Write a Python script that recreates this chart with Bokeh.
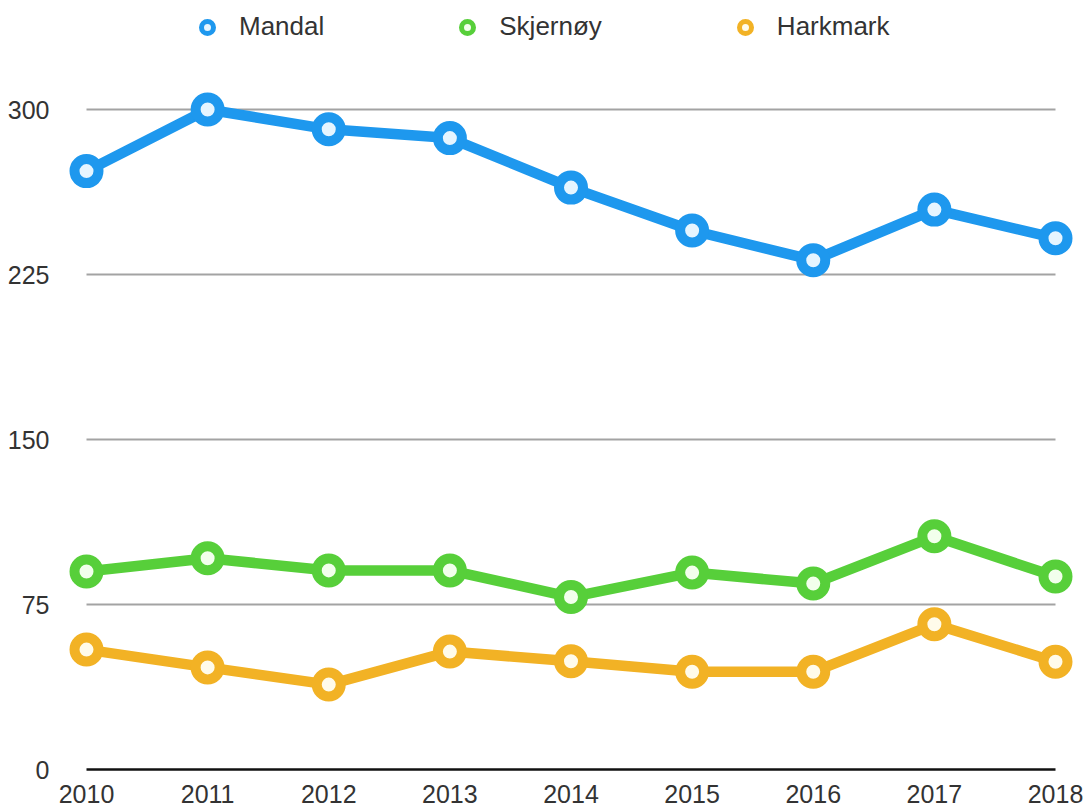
from bokeh.plotting import figure
from bokeh.models import Legend, LegendItem, FixedTicker, Range1d
from bokeh.embed import file_html
from bokeh.resources import INLINE

years = [2010, 2011, 2012, 2013, 2014, 2015, 2016, 2017, 2018]
mandal = [272, 300, 291, 287, 264.5, 245, 231.5, 254.5, 241.5]
skjernoy = [90, 96, 90.5, 90.5, 78.4, 89.5, 84.5, 106, 87.7]
harkmark = [54.5, 46.4, 38.6, 53.6, 49.2, 44.4, 44.4, 66, 49]
series_names = ["Mandal", "Skjernøy", "Harkmark"]
y_ticks = [0, 75, 150, 225, 300]

colors = ["#1E98EE", "#57CF3A", "#F2B225"]
centers = ["#E6F5FF", "#F2FFEC", "#FFFBEA"]

p = figure(width=1087, height=807, output_backend="svg", toolbar_location=None,
           x_range=Range1d(2009.8349, 2018.1651), y_range=Range1d(0, 349.55),
           min_border_left=66, min_border_right=12, min_border_top=0, min_border_bottom=38)
p.outline_line_color = None
p.background_fill_color = "white"
p.border_fill_color = "white"

p.xgrid.grid_line_color = None
p.ygrid.grid_line_color = None

# horizontal gridlines spanning the year range only
grid_ticks = y_ticks[1:]
p.segment(x0=[years[0]] * len(grid_ticks), x1=[years[-1]] * len(grid_ticks),
          y0=grid_ticks, y1=grid_ticks, line_color="#A3A3A3", line_width=2, level="underlay")

p.yaxis.ticker = FixedTicker(ticks=y_ticks)
p.yaxis.axis_line_color = None
p.yaxis.major_tick_line_color = None
p.yaxis.minor_tick_line_color = None
p.yaxis.major_label_standoff = 11
p.yaxis.major_label_text_font = "Liberation Sans"
p.yaxis.major_label_text_font_size = "25px"
p.yaxis.major_label_text_color = "#333333"

p.xaxis.ticker = FixedTicker(ticks=years)
p.xaxis.bounds = (years[0], years[-1])
p.xaxis.axis_line_color = "#111111"
p.xaxis.axis_line_width = 2.5
p.xaxis.major_tick_line_color = None
p.xaxis.minor_tick_line_color = None
p.xaxis.major_label_standoff = 9
p.xaxis.major_label_text_font = "Liberation Sans"
p.xaxis.major_label_text_font_size = "25px"
p.xaxis.major_label_text_color = "#333333"

items = []
for vals, name, c, cc in zip([mandal, skjernoy, harkmark], series_names, colors, centers):
    p.line(years, vals, line_color=c, line_width=10.5, line_join="round")
    p.scatter(years, vals, size=24, line_width=10, line_color=c, fill_color=cc)
    dummy = p.scatter([float("nan")], [float("nan")], size=12, line_width=5, line_color=c, fill_color=cc)
    items.append(LegendItem(label=name, renderers=[dummy]))

legend = Legend(items=items, orientation="horizontal", location=(126, 727),
                glyph_width=30, glyph_height=30, label_standoff=17, spacing=128,
                padding=0, margin=0, border_line_color=None, background_fill_alpha=0,
                label_text_font="Liberation Sans", label_text_font_size="26px",
                label_text_color="#333333")
p.add_layout(legend, "center")

open("out.html", "w").write(file_html(p, INLINE))
